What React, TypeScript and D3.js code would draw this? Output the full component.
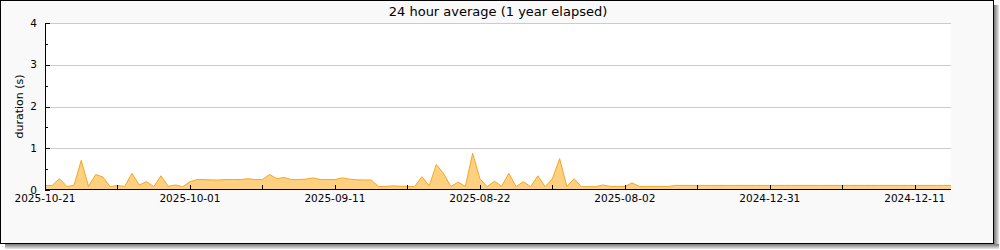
import React from "react";
import * as d3 from "d3";

const title = "24 hour average (1 year elapsed)";
const yAxisLabel = "duration (s)";

// one value per day, day 0 at the left edge
const durations: number[] = [
  0.11, 0.11, 0.27, 0.085, 0.11, 0.71, 0.09, 0.37, 0.31, 0.08,
  0.11, 0.085, 0.40, 0.12, 0.20, 0.08, 0.34, 0.09, 0.12, 0.08,
  0.20, 0.25, 0.25, 0.24, 0.24, 0.25, 0.25, 0.25, 0.27, 0.25,
  0.25, 0.37, 0.27, 0.30, 0.25, 0.25, 0.26, 0.29, 0.25, 0.25,
  0.25, 0.29, 0.26, 0.245, 0.24, 0.24, 0.085, 0.085, 0.10, 0.09,
  0.085, 0.085, 0.32, 0.10, 0.61, 0.39, 0.085, 0.19, 0.085, 0.88,
  0.27, 0.08, 0.21, 0.09, 0.40, 0.08, 0.20, 0.08, 0.34, 0.08,
  0.27, 0.75, 0.085, 0.27, 0.08, 0.08, 0.08, 0.12, 0.085, 0.085,
  0.085, 0.17, 0.085, 0.085, 0.085, 0.085, 0.085, 0.11, 0.11, 0.11,
  0.11, 0.11, 0.11, 0.11, 0.11, 0.11, 0.11, 0.11, 0.11, 0.11,
  0.11, 0.11, 0.11, 0.11, 0.11, 0.11, 0.11, 0.11, 0.11, 0.11,
  0.11, 0.11, 0.11, 0.11, 0.11, 0.11, 0.11, 0.11, 0.11, 0.11,
  0.11, 0.11, 0.11, 0.11, 0.11, 0.11,
];

const xMajorTicks = [0, 20, 40, 60, 80, 100, 120];
const xTickLabels = [
  "2025-10-21",
  "2025-10-01",
  "2025-09-11",
  "2025-08-22",
  "2025-08-02",
  "2024-12-31",
  "2024-12-11",
];
const xMinorTicks = [10, 30, 50, 70, 90, 110];
const yMajorTicks = [0, 1, 2, 3, 4];
const yMinorTicks = [0.5, 1.5, 2.5, 3.5];

const W = 1000;
const H = 250;
const left = 45;
const right = 951;
const top = 23;
const bottom = 190;
const font = "DejaVu Sans, Verdana, sans-serif";

export default function App() {
  const x = d3.scaleLinear().domain([0, 125]).range([left, right]);
  const y = d3.scaleLinear().domain([0, 4]).range([bottom, top]);

  const area = d3
    .area<number>()
    .x((_, i) => x(i))
    .y0(y(0))
    .y1((d) => y(d));
  const line = d3
    .line<number>()
    .x((_, i) => x(i))
    .y((d) => y(d));

  return (
    <svg
      width={W}
      height={H}
      style={{ position: "absolute", left: 0, top: 0, display: "block" }}
    >
      <defs>
        <linearGradient id="shR" x1="0" x2="1" y1="0" y2="0">
          <stop offset="0" stopColor="#777" />
          <stop offset="1" stopColor="#e8e8e8" />
        </linearGradient>
        <linearGradient id="shB" x1="0" x2="0" y1="0" y2="1">
          <stop offset="0" stopColor="#777" />
          <stop offset="1" stopColor="#e8e8e8" />
        </linearGradient>
      </defs>
      <rect x={0} y={0} width={W} height={H} fill="#ffffff" />
      {/* shadow */}
      <rect x={994} y={5} width={5} height={244} fill="url(#shR)" />
      <rect x={5} y={244} width={994} height={5} fill="url(#shB)" />
      {/* frame */}
      <rect
        x={0.5}
        y={0.5}
        width={993}
        height={243}
        fill="#f9f9f9"
        stroke="#000"
        strokeWidth={1}
      />
      {/* plot background */}
      <rect x={left} y={top} width={right - left} height={bottom - top} fill="#fff" />
      {/* grid */}
      {yMajorTicks
        .filter((t) => t > 0)
        .map((t) => (
          <line
            key={"g" + t}
            x1={left}
            x2={right}
            y1={Math.round(y(t)) + 0.5}
            y2={Math.round(y(t)) + 0.5}
            stroke="#cccccc"
            strokeWidth={1}
          />
        ))}
      {/* series */}
      <path d={area(durations) || ""} fill="#ffd07f" stroke="none" />
      <path d={line(durations) || ""} fill="none" stroke="#f5a623" strokeWidth={1} />
      {/* axes */}
      <line x1={left + 0.5} x2={left + 0.5} y1={top} y2={bottom} stroke="#000" />
      <line x1={left} x2={right} y1={bottom - 0.5} y2={bottom - 0.5} stroke="#000" />
      {yMajorTicks.map((t) => (
        <line
          key={"ym" + t}
          x1={left}
          x2={left + 5}
          y1={Math.round(y(t)) + 0.5}
          y2={Math.round(y(t)) + 0.5}
          stroke="#000"
        />
      ))}
      {yMinorTicks.map((t) => (
        <line
          key={"yn" + t}
          x1={left}
          x2={left + 3}
          y1={Math.round(y(t)) + 0.5}
          y2={Math.round(y(t)) + 0.5}
          stroke="#000"
        />
      ))}
      {yMajorTicks.map((t) => (
        <text
          key={"yl" + t}
          x={37}
          y={y(t)}
          dy="0.35em"
          textAnchor="end"
          fontFamily={font}
          fontSize={10.5}
          fill="#000"
        >
          {t}
        </text>
      ))}
      {[...xMajorTicks, ...xMinorTicks].map((t) => (
        <line
          key={"xt" + t}
          x1={Math.round(x(t)) + 0.5}
          x2={Math.round(x(t)) + 0.5}
          y1={bottom - 5}
          y2={bottom}
          stroke="#000"
        />
      ))}
      {xMajorTicks.map((t, i) => (
        <text
          key={"xl" + t}
          x={x(t)}
          y={202}
          textAnchor="middle"
          fontFamily={font}
          fontSize={10.5}
          fill="#000"
        >
          {xTickLabels[i]}
        </text>
      ))}
      <text
        x={(left + right) / 2}
        y={16}
        textAnchor="middle"
        fontFamily={font}
        fontSize={13}
        fill="#000"
      >
        {title}
      </text>
      <text
        transform={`translate(23,${(top + bottom) / 2}) rotate(-90)`}
        textAnchor="middle"
        fontFamily={font}
        fontSize={11}
        fill="#000"
      >
        {yAxisLabel}
      </text>
    </svg>
  );
}
